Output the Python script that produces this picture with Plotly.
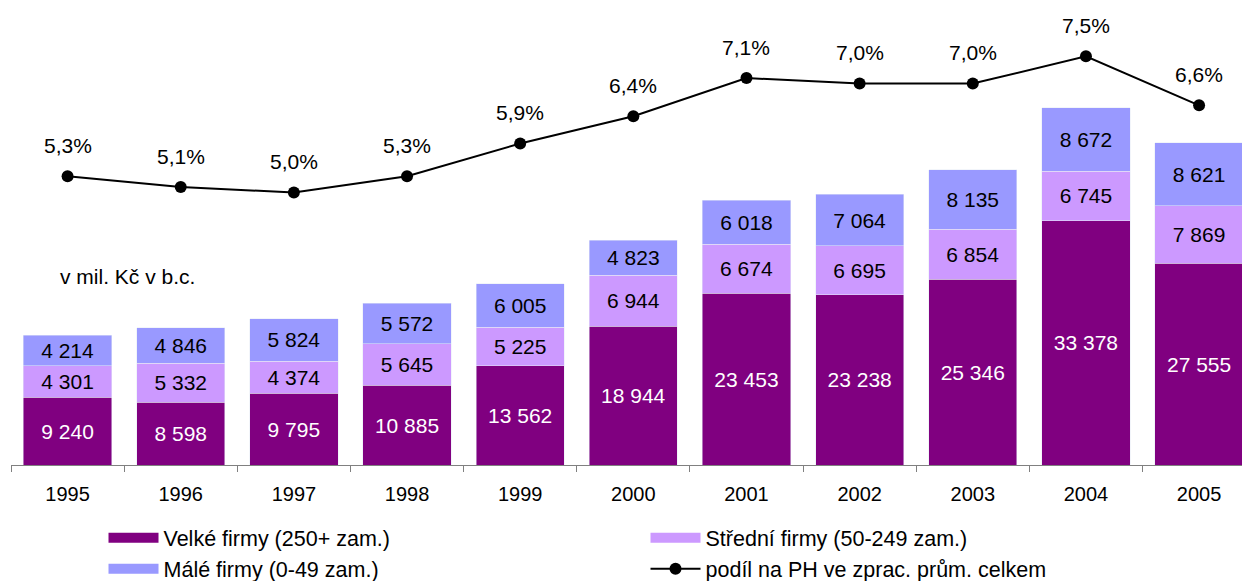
import plotly.graph_objects as go

roky = ["1995", "1996", "1997", "1998", "1999", "2000", "2001", "2002", "2003", "2004", "2005"]
velke = [9240, 8598, 9795, 10885, 13562, 18944, 23453, 23238, 25346, 33378, 27555]
stredni = [4301, 5332, 4374, 5645, 5225, 6944, 6674, 6695, 6854, 6745, 7869]
male = [4214, 4846, 5824, 5572, 6005, 4823, 6018, 7064, 8135, 8672, 8621]
podil = [5.3, 5.1, 5.0, 5.3, 5.9, 6.4, 7.1, 7.0, 7.0, 7.5, 6.6]

font = "Liberation Sans, Arial, sans-serif"
barvy = ["#800080", "#CC99FF", "#9999FF"]
nazvy = ["Velké firmy (250+ zam.)", "Střední firmy (50-249 zam.)", "Málé firmy (0-49 zam.)"]
barvy_textu = ["white", "black", "black"]

fig = go.Figure()

# stacked bars
for hodnoty, barva, nazev, bt in zip([velke, stredni, male], barvy, nazvy, barvy_textu):
    fig.add_trace(go.Bar(x=roky, y=hodnoty, name=nazev, showlegend=False,
                         marker_color=barva, texttemplate="%{y:,.0f}",
                         textposition="inside", insidetextanchor="middle",
                         textfont=dict(color=bt, size=21, family=font)))

# legend entries with wide rectangular swatches
for k, (barva, nazev) in enumerate(zip(barvy, nazvy)):
    fig.add_trace(go.Scatter(x=[None], y=[None], mode="lines", name=nazev,
                             line=dict(color=barva, width=14), legendrank=k + 1))

# share line on second axis
fig.add_trace(go.Scatter(x=roky, y=podil, name="podíl na PH ve zprac. prům. celkem",
                         mode="lines+markers", yaxis="y2", legendrank=4,
                         line=dict(color="black", width=2),
                         marker=dict(color="black", size=12)))

# percentage labels (category index used for x on a category axis)
for i, p in enumerate(podil):
    fig.add_annotation(x=i, y=p, yref="y2", text=f"{p:.1f}%".replace(".", ","),
                       showarrow=False, yshift=31,
                       font=dict(size=21, color="black", family=font))

fig.add_annotation(x=0.038, y=0.415, xref="paper", yref="paper", yanchor="middle",
                   xanchor="left", text="v mil. Kč v b.c.", showarrow=False,
                   font=dict(size=21, color="black", family=font))

# page body adds 8px margin, so the figure is 8px smaller than the window
fig.update_layout(
    width=1242, height=573,
    margin=dict(l=3, r=0, t=2, b=116, autoexpand=False),
    barmode="stack", bargap=0.22,
    separators=", ",
    plot_bgcolor="white", paper_bgcolor="white",
    font=dict(family=font, size=20, color="black"),
    xaxis=dict(type="category", range=[-0.5, 10.45], showline=True,
               linecolor="#808080", linewidth=1,
               ticks="outside", tickson="boundaries", ticklen=6, tickcolor="#808080",
               showgrid=False, tickfont=dict(size=20), automargin=False,
               ticklabelstandoff=11),
    yaxis=dict(range=[0, 62150], visible=False, showgrid=False),
    yaxis2=dict(range=[0, 8.35], overlaying="y", visible=False, showgrid=False),
    showlegend=True,
    legend=dict(orientation="h", xref="container", yref="container",
                x=0.0769, y=0.111, xanchor="left", yanchor="top",
                traceorder="normal", entrywidth=477, entrywidthmode="pixels",
                font=dict(size=21.5, family=font), itemwidth=50,
                tracegroupgap=0),
)

fig.write_html("out.html")
